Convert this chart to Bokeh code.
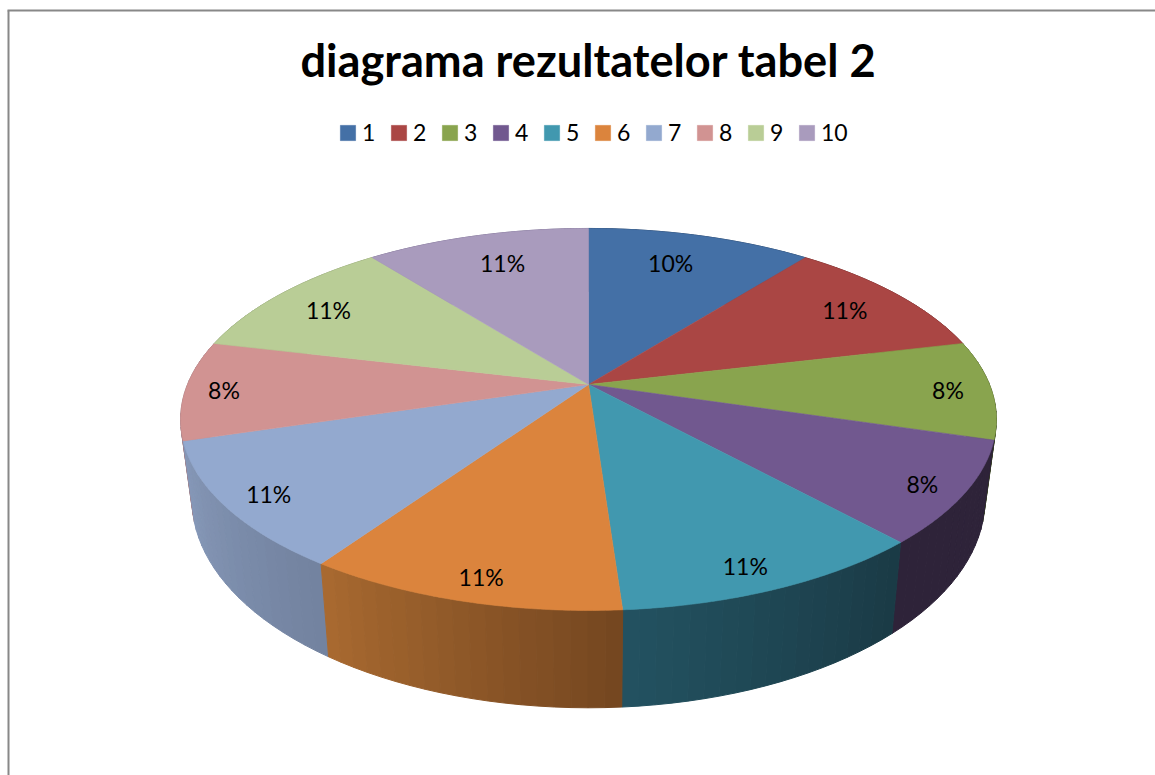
import numpy as np
from bokeh.core.properties import value
from bokeh.embed import file_html
from bokeh.models import Legend, LegendItem, Range1d
from bokeh.plotting import figure
from bokeh.resources import INLINE

TITLE = "diagrama rezultatelor tabel 2"
categories = ["1", "2", "3", "4", "5", "6", "7", "8", "9", "10"]
shares = [10.61, 10.67, 8.33, 8.64, 10.64, 10.69, 10.75, 8.39, 10.69, 10.59]
percent_labels = ["10%", "11%", "8%", "8%", "11%", "11%", "11%", "8%", "11%", "11%"]

top_colors = ["#4470a6", "#aa4644", "#89a44e", "#71588f", "#4198af",
              "#db843d", "#93a9cf", "#d19392", "#b9cd96", "#a99bbd"]
wall_start = ["#2a4466", "#6a2b2a", "#4a5a2a", "#2e2339", "#1a3a45",
              "#744620", "#72829f", "#a07f88", "#8a9a70", "#7a7090"]
wall_end = ["#2a4466", "#6a2b2a", "#3a4622", "#2e2339", "#235261",
            "#a96a30", "#8799b9", "#a07f88", "#8a9a70", "#7a7090"]

# Projection of the pie, in page pixels
CX, CY = 588.0, 384.0
RX, RY, PERSP = 401.0, 184.6, 0.183
WALL_SX, WALL_SY, WALL_H = 0.972, 1.09, 77.0
PAGE_L, PAGE_T, PAGE_R, PAGE_B = 0, 0, 1155, 775

# Label placement: radial fraction for each slice and a small pixel nudge
label_radius = [0.76, 0.82, 0.90, 0.90, 0.88, 0.89, 0.88, 0.90, 0.83, 0.76]
label_nudge_x = [-6, 0, -3, -1, -6, 4, -5, -2, -1, 2]
label_nudge_y = [-4, 1, 1, 3, 6, 4, 4, 1, 2, -4]


def top_xy(theta, r=1.0):
    u, v = r * np.sin(theta), r * np.cos(theta)
    d = 1 + PERSP * v
    return CX + RX * u / d, CY - RY * v / d


def bottom_xy(theta):
    x, y = top_xy(theta)
    return CX + WALL_SX * (x - CX), CY + WALL_SY * (y - CY) + WALL_H


def hex_rgb(c):
    return np.array([int(c[i:i + 2], 16) for i in (1, 3, 5)], dtype=float)


def mix(a, b, t):
    m = hex_rgb(a) * (1 - t) + hex_rgb(b) * t
    return "#%02x%02x%02x" % tuple(int(round(c)) for c in m)


vals = np.array(shares, dtype=float)
total = vals.sum()
edges = np.concatenate([[0.0], np.cumsum(vals) / total * 2 * np.pi])

p = figure(width=PAGE_R - PAGE_L, height=PAGE_B - PAGE_T,
           x_range=Range1d(PAGE_L, PAGE_R), y_range=Range1d(PAGE_B, PAGE_T),
           output_backend="svg", toolbar_location=None, min_border=0,
           outline_line_color=None, background_fill_color="white",
           border_fill_color="white")
p.xaxis.visible = False
p.yaxis.visible = False
p.grid.visible = False

# Walls: thin strips, painted from back to front
strips = []
for i in range(len(vals)):
    a0, a1 = edges[i], edges[i + 1]
    n = max(2, int(np.degrees(a1 - a0) / 2))
    th = np.linspace(a0, a1, n + 1)
    for j in range(n):
        x0, y0 = top_xy(th[j])
        x1, y1 = top_xy(th[j + 1])
        x2, y2 = bottom_xy(th[j + 1])
        x3, y3 = bottom_xy(th[j])
        col = mix(wall_start[i], wall_end[i], (j + 0.5) / n)
        strips.append((np.cos((th[j] + th[j + 1]) / 2), [x0, x1, x2, x3], [y0, y1, y2, y3], col))
strips.sort(key=lambda s: -s[0])
p.patches([s[1] for s in strips], [s[2] for s in strips],
          fill_color=[s[3] for s in strips], line_color=[s[3] for s in strips], line_width=1)

# Top faces
items = []
for i, name in enumerate(categories):
    n = max(2, int(np.degrees(edges[i + 1] - edges[i])) * 2)
    th = np.linspace(edges[i], edges[i + 1], n + 1)
    ax, ay = top_xy(th)
    r = p.patch(np.concatenate([[CX], ax]), np.concatenate([[CY], ay]),
                fill_color=top_colors[i], line_color=top_colors[i], line_width=0.6)
    items.append(LegendItem(label=name, renderers=[r]))

# Percentage labels
mids = (edges[:-1] + edges[1:]) / 2
lx, ly = top_xy(mids, np.array(label_radius))
lx = lx + np.array(label_nudge_x)
ly = ly + np.array(label_nudge_y)
p.text(lx, ly, text=percent_labels, text_align="center", text_baseline="middle",
       text_font=value("Lato"), text_font_size="23px", text_color="#000000")

# Title
p.text([CX], [59], text=[TITLE], text_align="center", text_baseline="middle",
       text_font=value("Lato"), text_font_size="45.2px", text_font_style="bold",
       text_color="#000000")

# Chart-area border (left and top edges are visible in the crop)
p.segment([8, 7], [10, 10], [8, PAGE_R], [PAGE_B, 10], line_color="#888888", line_width=2)

legend = Legend(items=items, orientation="horizontal", location=(338, 629),
                glyph_width=19, glyph_height=19, label_standoff=5, spacing=7,
                padding=0, margin=0, border_line_color=None, background_fill_alpha=0,
                label_text_font="Lato", label_text_font_size="23px", label_text_color="#000000")
p.add_layout(legend, "center")

open("out.html", "w").write(file_html(p, INLINE))
